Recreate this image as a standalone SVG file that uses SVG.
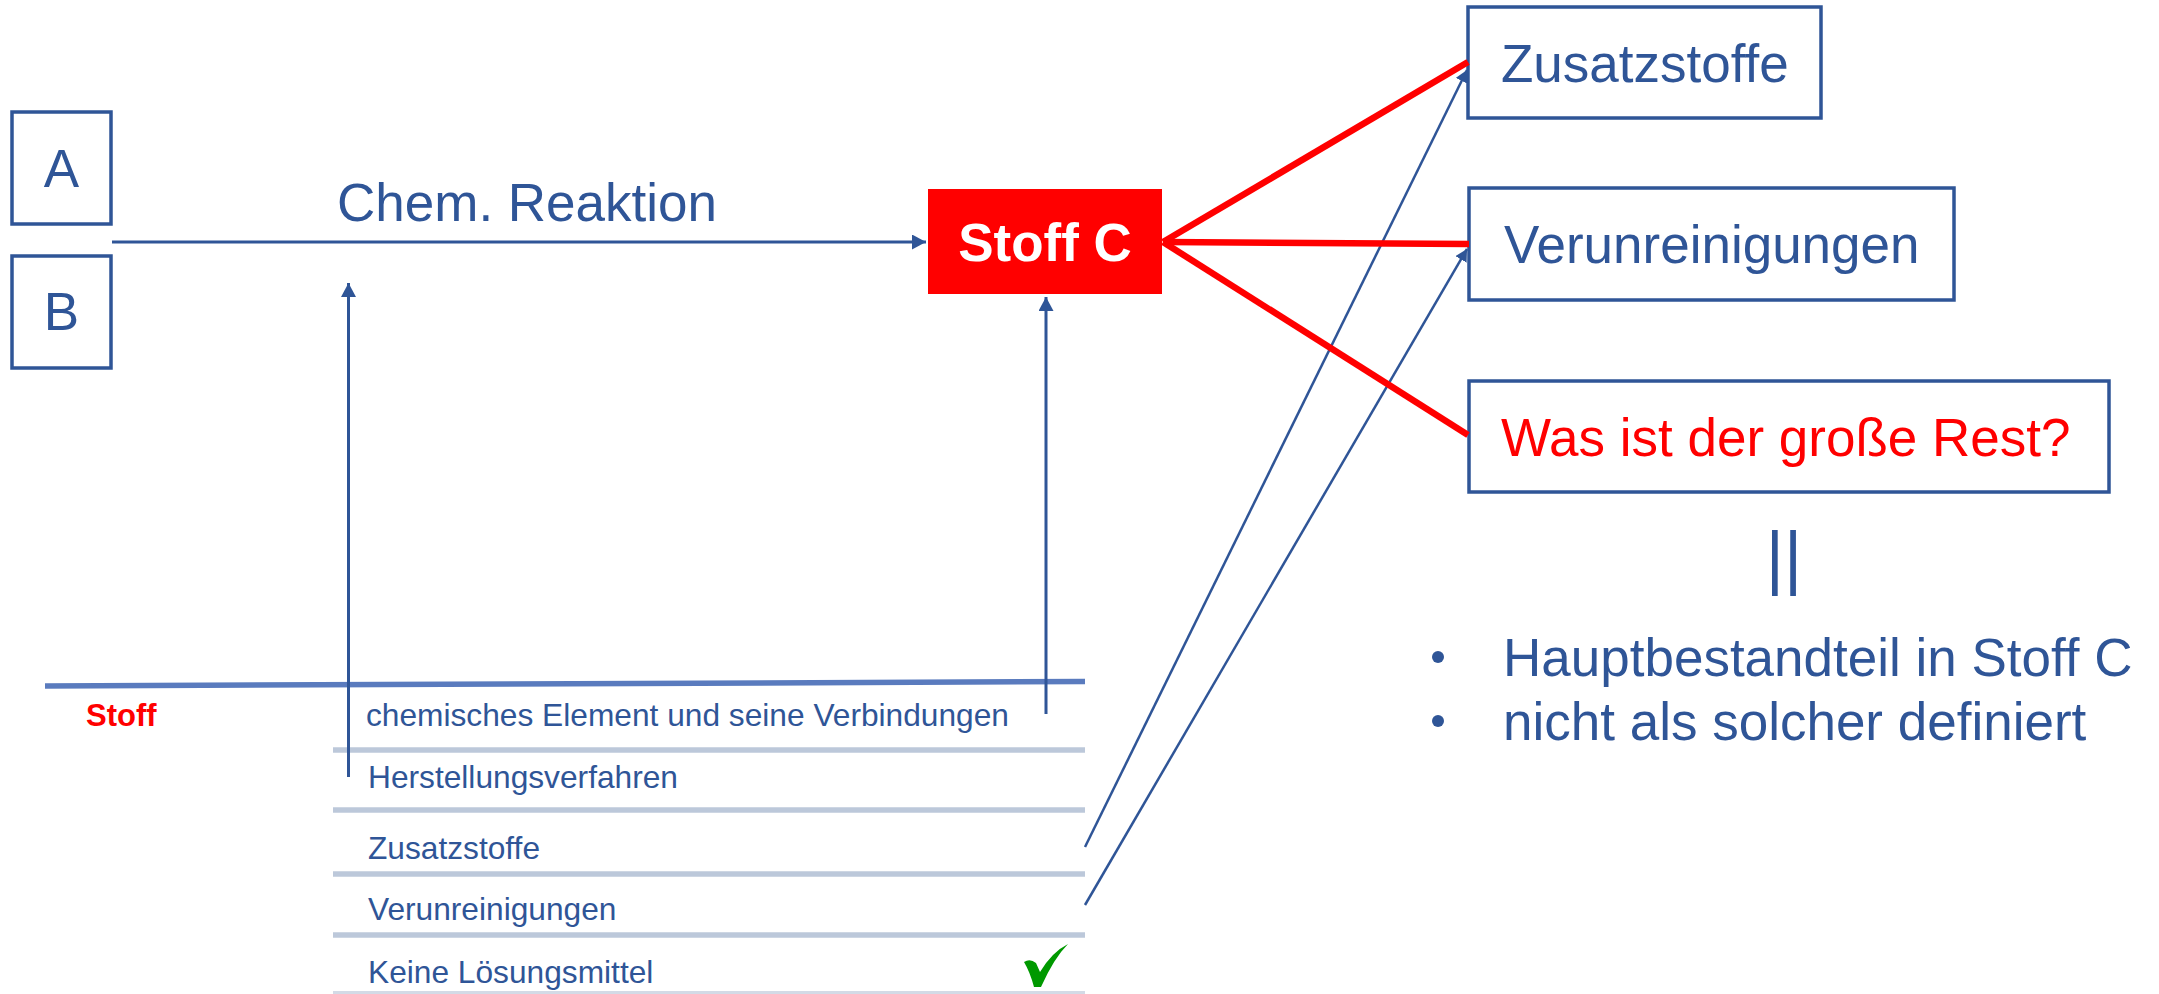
<svg xmlns="http://www.w3.org/2000/svg" width="2159" height="994" viewBox="0 0 2159 994">
<style>
text{font-family:"Liberation Sans",Arial,sans-serif;}
.box{fill:#ffffff;stroke:#2F5597;stroke-width:3.5;}
.big{font-size:53px;fill:#2F5597;}
.small{font-size:31.7px;fill:#2F5597;}
.conn{stroke:#2F5597;stroke-width:3;fill:none;}
.red{stroke:#FF0000;stroke-width:6.5;fill:none;}
.thin{stroke:#2F5597;stroke-width:2.5;fill:none;}
.row{stroke:#BCC8DA;stroke-width:5.5;}
</style>
<defs>
<marker id="ah" markerUnits="userSpaceOnUse" markerWidth="15" markerHeight="15" refX="14" refY="7.5" orient="auto">
<path d="M0,0 L14,7.5 L0,15 z" fill="#2F5597"/>
</marker>
<marker id="ahs" markerUnits="userSpaceOnUse" markerWidth="13" markerHeight="13" refX="12" refY="6.5" orient="auto">
<path d="M0,0 L12,6.5 L0,13 z" fill="#2F5597"/>
</marker>
</defs>
<rect width="2159" height="994" fill="#ffffff"/>

<g id="table">
<line x1="45" y1="686" x2="1085" y2="681.5" stroke="#5A7BBE" stroke-width="5.5"/>
<line class="row" x1="333" y1="750" x2="1085" y2="750"/>
<line class="row" x1="333" y1="810" x2="1085" y2="810"/>
<line class="row" x1="333" y1="874" x2="1085" y2="874"/>
<line class="row" x1="333" y1="935" x2="1085" y2="935"/>
<line x1="333" y1="992.5" x2="1085" y2="992.5" stroke="#D3DAE6" stroke-width="3"/>
<text x="86" y="726" style="font-size:31px;font-weight:bold;fill:#FF0000">Stoff</text>
<text class="small" x="366" y="726">chemisches Element und seine Verbindungen</text>
<text class="small" x="368" y="788">Herstellungsverfahren</text>
<text class="small" x="368" y="859">Zusatzstoffe</text>
<text class="small" x="368" y="920">Verunreinigungen</text>
<text class="small" x="368" y="983">Keine Lösungsmittel</text>
<path d="M1024,962 Q1030,958 1036,963 L1040,972 Q1052,952 1068,944 Q1054,958 1041,987 L1034,987 Q1030,972 1024,962 z" fill="#009900"/>
</g>

<g id="nodeA">
<rect class="box" x="12" y="112" width="99" height="112"/>
<text class="big" x="61.5" y="187" text-anchor="middle">A</text>
</g>
<g id="nodeB">
<rect class="box" x="12" y="256" width="99" height="112"/>
<text class="big" x="61.5" y="330" text-anchor="middle">B</text>
</g>
<g id="label-reaktion">
<text class="big" x="337" y="221">Chem. Reaktion</text>
</g>

<g id="nodeStoffC">
<rect x="928" y="189" width="234" height="105" fill="#FF0000"/>
<text x="1045" y="261" text-anchor="middle" style="font-size:53px;font-weight:bold;fill:#ffffff">Stoff C</text>
</g>

<g id="nodeZusatz">
<rect class="box" x="1468" y="7" width="353" height="111"/>
<text class="big" x="1501" y="82">Zusatzstoffe</text>
</g>
<g id="nodeVerun">
<rect class="box" x="1469" y="188" width="485" height="112"/>
<text class="big" x="1504" y="263">Verunreinigungen</text>
</g>
<g id="nodeRest">
<rect class="box" x="1469" y="381" width="640" height="111"/>
<text x="1501" y="456" style="font-size:53px;fill:#FF0000">Was ist der große Rest?</text>
</g>

<g id="notes">
<text class="big" x="1784" y="581" text-anchor="middle" style="font-size:70px">||</text>
<circle cx="1438" cy="657" r="6" fill="#2F5597"/>
<circle cx="1438" cy="721" r="6" fill="#2F5597"/>
<text class="big" x="1503" y="676">Hauptbestandteil in Stoff C</text>
<text class="big" x="1503" y="740">nicht als solcher definiert</text>
</g>

<g id="connectors">
<line class="conn" x1="112" y1="242" x2="926" y2="242" marker-end="url(#ah)"/>
<line class="conn" x1="348.5" y1="777" x2="348.5" y2="283" marker-end="url(#ah)"/>
<line class="conn" x1="1046" y1="714" x2="1046" y2="297" marker-end="url(#ah)"/>
<line class="thin" x1="1085" y1="847" x2="1467" y2="70" marker-end="url(#ahs)"/>
<line class="thin" x1="1085" y1="905" x2="1467" y2="249" marker-end="url(#ahs)"/>
<line class="red" x1="1163" y1="242" x2="1468" y2="62"/>
<line class="red" x1="1163" y1="242" x2="1469" y2="244"/>
<line class="red" x1="1163" y1="242" x2="1468" y2="435"/>
</g>
</svg>
